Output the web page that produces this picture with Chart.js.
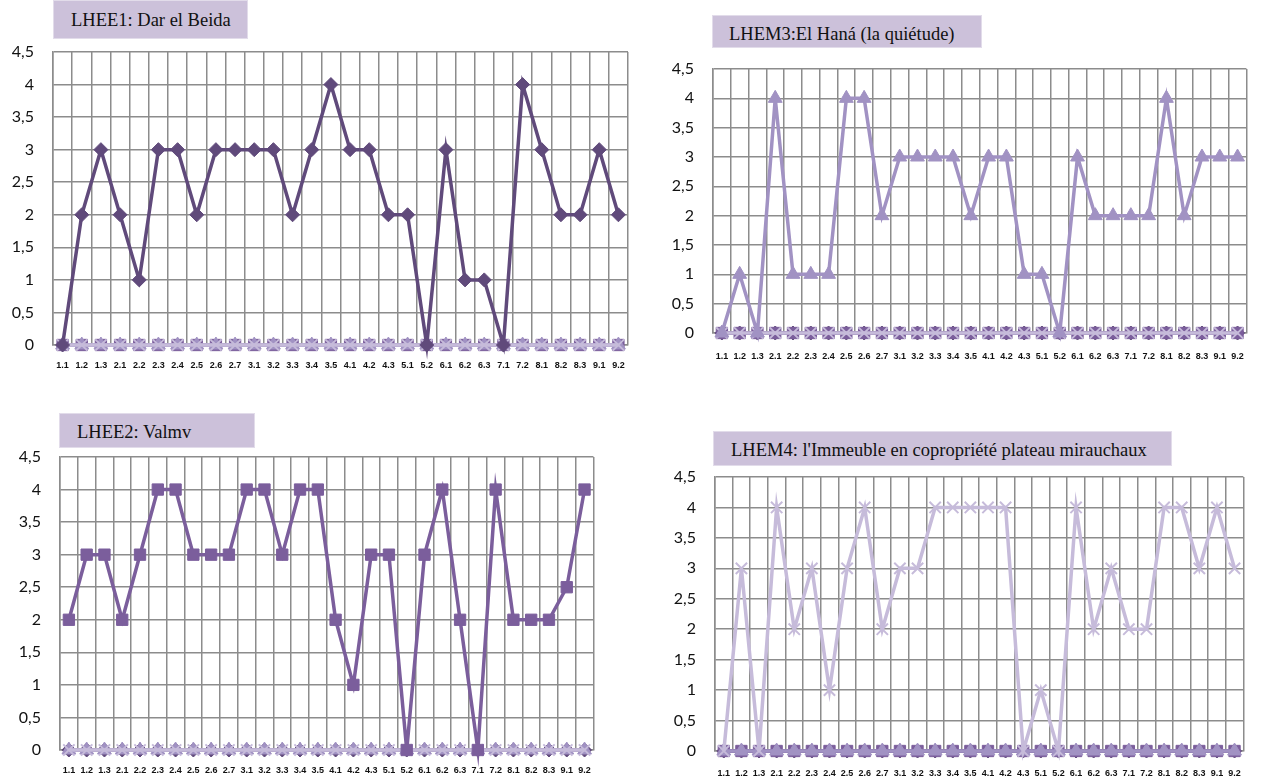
<!DOCTYPE html>
<html>
<head>
<meta charset="utf-8">
<script src="https://cdn.jsdelivr.net/npm/chart.js@4.4.1/dist/chart.umd.min.js"></script>
<style>
  body { margin: 0; background: #fff; }
  #page { position: relative; width: 1288px; height: 783px; overflow: hidden; }
  canvas { position: absolute; }
  .ttl {
    position: absolute; box-sizing: border-box;
    background: #ccc1da; border: 1px solid #e2dcea;
    font-family: "Liberation Serif", "Times New Roman", serif;
    font-size: 18.5px; color: #111; white-space: nowrap;
  }
</style>
</head>
<body>
<div id="page">
  <div class="ttl" style="left:53px;top:0px;width:195px;height:39px;padding:9px 0 0 17px;">LHEE1: Dar el Beida</div>
  <div class="ttl" style="left:712px;top:15px;width:270px;height:33px;padding:8px 0 0 16px;">LHEM3:El Haná (la quiétude)</div>
  <div class="ttl" style="left:59px;top:413px;width:196px;height:35px;padding:8px 0 0 17px;">LHEE2: Valmv</div>
  <div class="ttl" style="left:713px;top:431px;width:459px;height:35px;padding:8px 0 0 17px;">LHEM4: l'Immeuble en copropriété plateau mirauchaux</div>
  <canvas id="c1"></canvas>
  <canvas id="c2"></canvas>
  <canvas id="c3"></canvas>
  <canvas id="c4"></canvas>
</div>
<script>
// categories and values
const categories = ['1.1','1.2','1.3','2.1','2.2','2.3','2.4','2.5','2.6','2.7',
  '3.1','3.2','3.3','3.4','3.5','4.1','4.2','4.3','5.1','5.2',
  '6.1','6.2','6.3','7.1','7.2','8.1','8.2','8.3','9.1','9.2'];

const lhee1 = [0,2,3,2,1,3,3,2,3,3, 3,3,2,3,4,3,3,2,2,0, 3,1,1,0,4,3,2,2,3,2];
const lhee2 = [2,3,3,2,3,4,4,3,3,3, 4,4,3,4,4,2,1,3,3,0, 3,4,2,0,4,2,2,2,2.5,4];
const lhem3 = [0,1,0,4,1,1,1,4,4,2, 3,3,3,3,2,3,3,1,1,0, 3,2,2,2,2,4,2,3,3,3];
const lhem4 = [0,3,0,4,2,3,1,3,4,2, 3,3,4,4,4,4,4,0,1,0, 4,2,3,2,2,4,4,3,4,3];
const zeros = [0,0,0,0,0,0,0,0,0,0, 0,0,0,0,0,0,0,0,0,0, 0,0,0,0,0,0,0,0,0,0];

const yTickLabels = ['0','0,5','1','1,5','2','2,5','3','3,5','4','4,5'];

const series = [
  { label: 'LHEE1', data: lhee1, color: '#604a7b', style: 'rectRot', radius: 7 },
  { label: 'LHEE2', data: lhee2, color: '#7b5e9c', style: 'rect', radius: 8 },
  { label: 'LHEM3', data: lhem3, color: '#a192c3', style: 'triangle', radius: 8 },
  { label: 'LHEM4', data: lhem4, color: '#c6bbda', style: 'crossRot', radius: 8 }
];

function makeChart(id, main, p, xPad) {
  const cv = document.getElementById(id);
  const padTop = 30, padRight = 12, yW = 60, xH = 40;
  cv.width = p.r - p.l + yW + padRight;
  cv.height = p.b - p.t + padTop + xH;
  cv.style.left = (p.l - yW) + 'px';
  cv.style.top = (p.t - padTop) + 'px';

  // first dataset is painted last: main series on top, then the zero rows
  // with the later series over the earlier ones
  const order = [main].concat([3,2,1,0].filter(i => i !== main));
  const datasets = order.map(i => {
    const s = series[i];
    return {
      label: s.label,
      data: i === main ? s.data : zeros,
      borderColor: s.color,
      backgroundColor: s.color,
      borderWidth: 3.5,
      pointStyle: s.style,
      pointRadius: s.radius,
      pointBorderWidth: s.style === 'crossRot' ? 2 : 1,
      pointBorderColor: s.color,
      pointBackgroundColor: s.color,
      clip: false,
      tension: 0
    };
  });

  new Chart(cv, {
    type: 'line',
    data: { labels: categories, datasets: datasets },
    options: {
      responsive: false,
      animation: false,
      layout: { padding: { top: padTop, right: padRight, left: 0, bottom: 0 } },
      plugins: { legend: { display: false }, tooltip: { enabled: false } },
      scales: {
        x: {
          offset: true,
          grid: { offset: true, color: '#8c8c8c', lineWidth: 1.5, drawTicks: false },
          border: { color: '#8c8c8c', width: 1.5 },
          ticks: {
            autoSkip: false, maxRotation: 0, minRotation: 0, padding: xPad,
            color: '#111', font: { family: 'Liberation Sans', size: 9, weight: 'bold' }
          },
          afterFit: a => { a.height = xH; }
        },
        y: {
          min: 0, max: 4.5,
          grid: { color: '#8c8c8c', lineWidth: 1.5, drawTicks: false },
          border: { color: '#8c8c8c', width: 1.5 },
          ticks: {
            stepSize: 0.5, padding: 19, color: '#111',
            font: { family: 'Lato', size: 16 },
            callback: (v, i) => yTickLabels[i]
          },
          afterFit: a => { a.width = yW; }
        }
      }
    }
  });
}

makeChart('c1', 0, { l: 53, t: 52, r: 628, b: 345 }, 15);
makeChart('c2', 2, { l: 713, t: 69, r: 1250, b: 333 }, 18);
makeChart('c3', 1, { l: 60, t: 457, r: 594, b: 750 }, 15);
makeChart('c4', 3, { l: 715, t: 477, r: 1246, b: 751 }, 17);
</script>
</body>
</html>
